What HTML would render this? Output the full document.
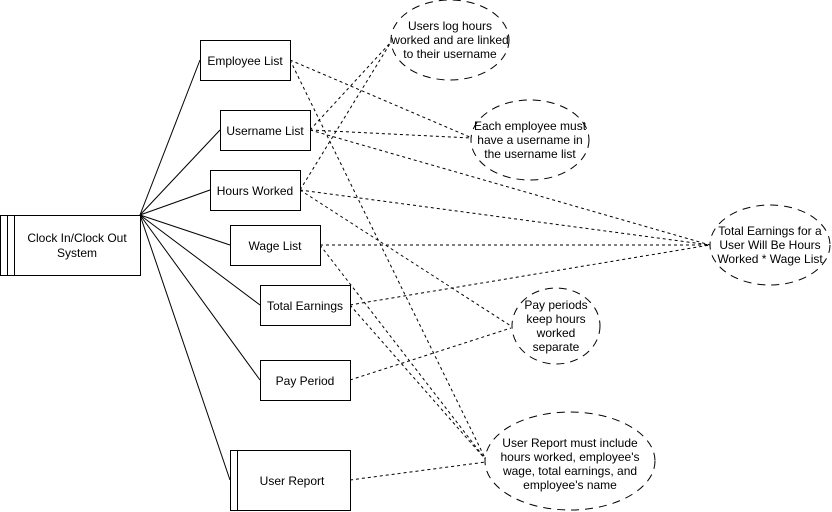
<!DOCTYPE html>
<html><head><meta charset="utf-8"><style>
html,body{margin:0;padding:0;background:#fff;}
svg{display:block;}
text{font-family:"Liberation Sans",Arial,sans-serif;font-size:12px;fill:#000;}
</style></head><body>
<svg width="832" height="512" viewBox="0 0 832 512" xmlns="http://www.w3.org/2000/svg">
<g stroke="#000" stroke-width="1" fill="none">
<line x1="140" y1="215" x2="200" y2="60"/>
<line x1="140" y1="215" x2="220" y2="130"/>
<line x1="140" y1="215" x2="210" y2="190"/>
<line x1="140" y1="215" x2="230" y2="245"/>
<line x1="140" y1="215" x2="260" y2="305"/>
<line x1="140" y1="215" x2="260" y2="380"/>
<line x1="140" y1="215" x2="230" y2="480"/>
</g>
<g stroke="#000" stroke-width="1" fill="none" stroke-dasharray="3,3">
<line x1="290" y1="60" x2="472" y2="138"/>
<line x1="290" y1="60" x2="486" y2="460"/>
<line x1="310" y1="130" x2="391" y2="42"/>
<line x1="310" y1="130" x2="471" y2="138"/>
<line x1="310" y1="130" x2="710" y2="245"/>
<line x1="300" y1="190" x2="391" y2="42"/>
<line x1="300" y1="190" x2="710" y2="245"/>
<line x1="300" y1="190" x2="511" y2="326"/>
<line x1="320" y1="245" x2="710" y2="245"/>
<line x1="320" y1="245" x2="486" y2="460"/>
<line x1="350" y1="305" x2="710" y2="245"/>
<line x1="350" y1="305" x2="486" y2="460"/>
<line x1="350" y1="380" x2="511" y2="328"/>
<line x1="350" y1="480" x2="486" y2="462"/>
</g>
<g stroke="#000" stroke-width="1" fill="#fff">
<rect x="0.5" y="215.5" width="140" height="60"/>
<line x1="7.5" y1="215.5" x2="7.5" y2="275.5"/>
<line x1="14.5" y1="215.5" x2="14.5" y2="275.5"/>
<rect x="200.5" y="40.5" width="90" height="40"/>
<rect x="220.5" y="110.5" width="90" height="40"/>
<rect x="210.5" y="170.5" width="90" height="40"/>
<rect x="230.5" y="225.5" width="90" height="40"/>
<rect x="260.5" y="285.5" width="90" height="40"/>
<rect x="260.5" y="360.5" width="90" height="40"/>
<rect x="230.5" y="450.5" width="120" height="60"/>
<line x1="237.5" y1="450.5" x2="237.5" y2="510.5"/>
</g>
<g stroke="#000" stroke-width="1" fill="#fff" stroke-dasharray="8,6">
<ellipse cx="450" cy="40" rx="59" ry="40"/>
<ellipse cx="530" cy="140" rx="59" ry="40"/>
<ellipse cx="770" cy="245" rx="60" ry="40"/>
<ellipse cx="556" cy="326" rx="44" ry="38"/>
<ellipse cx="570" cy="461" rx="85" ry="49"/>
</g>
<g text-anchor="middle">
<text x="77" y="242">Clock In/Clock Out</text>
<text x="77" y="257">System</text>
<text x="245" y="65">Employee List</text>
<text x="265" y="135">Username List</text>
<text x="255" y="195">Hours Worked</text>
<text x="275" y="250">Wage List</text>
<text x="305" y="310">Total Earnings</text>
<text x="305" y="385">Pay Period</text>
<text x="292" y="485">User Report</text>
<text x="450" y="30">Users log hours</text>
<text x="450" y="44">worked and are linked</text>
<text x="450" y="58">to their username</text>
<text x="530" y="130">Each employee must</text>
<text x="530" y="144">have a username in</text>
<text x="530" y="158">the username list</text>
<text x="770" y="235">Total Earnings for a</text>
<text x="770" y="249">User Will Be Hours</text>
<text x="770" y="263">Worked * Wage List</text>
<text x="556" y="309">Pay periods</text>
<text x="556" y="323">keep hours</text>
<text x="556" y="337">worked</text>
<text x="556" y="351">separate</text>
<text x="570" y="447">User Report must include</text>
<text x="570" y="461">hours worked, employee's</text>
<text x="570" y="475">wage, total earnings, and</text>
<text x="570" y="489">employee's name</text>
</g>
</svg>
</body></html>
